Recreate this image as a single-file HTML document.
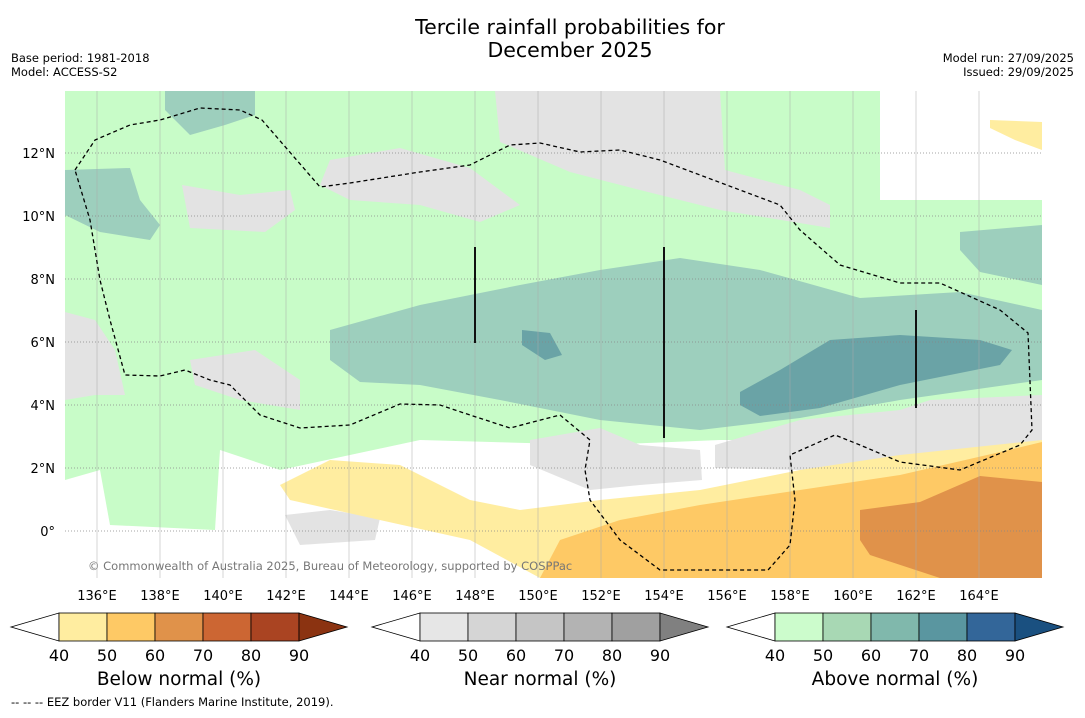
<!DOCTYPE html>
<html><head><meta charset="utf-8"><style>
body{margin:0;background:#fff;width:1085px;height:713px;overflow:hidden;font-family:"Liberation Sans",sans-serif}
svg text{font-family:"DejaVu Sans","Liberation Sans",sans-serif}
</style></head><body>
<svg id="s" width="1085" height="713">
<text x="570" y="34" font-size="20.5" text-anchor="middle">Tercile rainfall probabilities for</text>
<text x="570" y="57" font-size="20.5" text-anchor="middle">December 2025</text>
<text x="11" y="62" font-size="11.5">Base period: 1981-2018</text>
<text x="11" y="76" font-size="11.5">Model: ACCESS-S2</text>
<text x="1074" y="62" font-size="11.5" text-anchor="end">Model run: 27/09/2025</text>
<text x="1074" y="76" font-size="11.5" text-anchor="end">Issued: 29/09/2025</text>
<defs><clipPath id="mc"><rect x="65" y="91" width="977" height="487"/></clipPath></defs>
<g id="map" clip-path="url(#mc)"></g>
<g id="axes"></g>
<g id="bars"></g>
<text x="11" y="706" font-size="11.5">--  --  -- EEZ border V11 (Flanders Marine Institute, 2019).</text>
</svg>
<script>
const lonTicks=[136,138,140,142,144,146,148,150,152,154,156,158,160,162,164];
const latTicks=[0,2,4,6,8,10,12];
const levels=[40,50,60,70,80,90];
const belowColors=["#fff","#ffeda0","#fec965","#e0924a","#cc6633","#aa4422","#8b3311"];
const nearColors=["#fff","#e6e6e6","#d5d5d5","#c5c5c5","#b3b3b3","#a0a0a0","#808080"];
const aboveColors=["#fff","#ccfccc","#a8d8b4","#80b8ac","#5a96a0","#336699","#1a5080"];
const X=l=>97+(l-136)*31.5, Y=a=>531-a*31.5;
const NS="http://www.w3.org/2000/svg";
function mk(t,a,p){const e=document.createElementNS(NS,t);for(const k in a)e.setAttribute(k,a[k]);p.appendChild(e);return e;}
const map=document.getElementById('map');
const P=pts=>pts.map(p=>p.join(',')).join(' ');
const regions=[
["green-region","#c8fcc8",[[65,91],[880,91],[880,200],[1042,200],[1042,440],[720,440],[600,445],[420,440],[280,470],[220,450],[215,530],[110,525],[100,470],[65,480]]],
["gray-top-center","#e3e3e3",[[495,91],[720,91],[725,170],[800,190],[830,205],[830,228],[720,210],[640,190],[570,172],[500,142]]],
["gray-center","#e3e3e3",[[330,160],[400,148],[470,168],[520,205],[480,222],[420,205],[350,200],[320,185]]],
["gray-left-blob","#e3e3e3",[[182,185],[240,195],[290,190],[295,210],[265,232],[190,228]]],
["gray-left","#e3e3e3",[[65,312],[95,320],[115,350],[125,395],[95,395],[65,400]]],
["gray-mid-left","#e3e3e3",[[190,360],[255,350],[300,380],[300,410],[240,400],[195,385]]],
["teal-left","#9dcfbd",[[65,170],[130,168],[140,200],[160,225],[150,240],[100,232],[65,215]]],
["teal-top","#9dcfbd",[[165,91],[255,91],[255,115],[225,125],[190,135],[165,110]]],
["teal-main","#9dcfbd",[[330,330],[420,305],[520,285],[600,270],[680,258],[760,270],[860,298],[960,292],[1042,310],[1042,380],[900,400],[800,418],[700,430],[600,420],[500,400],[420,385],[360,382],[330,360]]],
["teal-right","#9dcfbd",[[960,232],[1042,225],[1042,285],[980,272],[960,250]]],
["dark-teal","#6aa3a6",[[740,392],[780,370],[830,340],[900,335],[980,340],[1012,350],[1000,365],[900,385],[820,408],[760,416],[740,405]]],
["dark-teal-small","#6aa3a6",[[522,330],[550,333],[562,355],[545,360],[522,345]]],
["gray-bottom-center","#e3e3e3",[[530,440],[600,428],[640,445],[700,450],[702,480],[640,485],[590,490],[530,465]]],
["gray-bottom-right","#e3e3e3",[[715,445],[800,420],[900,410],[930,400],[1042,395],[1042,440],[900,460],[800,470],[715,468]]],
["gray-bottom-left","#e3e3e3",[[285,515],[330,510],[380,518],[375,540],[300,545]]],
["yellow-region","#ffeda0",[[280,485],[330,460],[400,465],[470,500],[520,510],[600,500],[700,490],[800,470],[900,455],[1042,440],[1042,578],[540,578],[470,540],[380,520],[290,500]]],
["orange-region","#fec965",[[540,578],[560,540],[620,520],[700,505],[800,490],[900,475],[1000,452],[1042,442],[1042,578]]],
["dark-orange-region","#e0924a",[[860,510],[920,502],[980,476],[1042,482],[1042,578],[940,578],[870,555],[860,540]]],
["yellow-top-right","#ffeda0",[[990,120],[1042,122],[1042,150],[1015,140],[990,128]]]
];
regions.forEach(r=>{const e=mk('polygon',{points:P(r[2]),fill:r[1]},map);
});
const ax=document.getElementById('axes');
lonTicks.forEach(l=>{const e=mk('line',{x1:X(l),x2:X(l),y1:91,y2:578,stroke:'#aaa','stroke-width':0.5},map);

const t=mk('text',{x:X(l),y:600,'font-size':13,'text-anchor':'middle'},ax);t.textContent=l+'°E';
});
latTicks.forEach(a=>{const e=mk('line',{x1:65,x2:1042,y1:Y(a),y2:Y(a),stroke:'#888','stroke-width':0.8,'stroke-dasharray':'1,2'},map);

const t=mk('text',{x:55,y:Y(a)+5,'font-size':13,'text-anchor':'end'},ax);t.textContent=a==0?'0°':a+'°N';
});
const eez=[[75,170],[95,140],[130,125],[160,120],[200,108],[240,110],[262,120],[320,187],[350,183],[420,172],[470,165],[510,145],[540,143],[580,152],[620,150],[660,160],[740,190],[780,205],[800,230],[840,265],[900,283],[940,283],[1000,310],[1028,333],[1032,430],[1020,445],[960,470],[900,462],[860,445],[835,435],[790,455],[795,500],[790,545],[768,570],[660,570],[620,540],[590,500],[585,470],[590,440],[560,415],[510,428],[470,415],[440,405],[400,404],[350,425],[300,428],[260,415],[230,385],[210,380],[185,370],[160,376],[125,375],[110,320],[100,280],[90,220],[75,170]];
const d=mk('polyline',{points:P(eez),fill:'none',stroke:'#000','stroke-width':1.3,'stroke-dasharray':'4,3'},map);

[[475,247,343],[664,247,438],[916,310,408]].forEach(v=>{const e=mk('line',{x1:v[0],x2:v[0],y1:v[1],y2:v[2],stroke:'#111','stroke-width':2},map);
});
const ct=mk('text',{x:88,y:570,'font-size':11.5,fill:'#777'},map);ct.textContent='© Commonwealth of Australia 2025, Bureau of Meteorology, supported by COSPPac';

const bars=document.getElementById('bars');
[[59,belowColors,'Below normal (%)','below-colorbar'],[420,nearColors,'Near normal (%)','near-colorbar'],[775,aboveColors,'Above normal (%)','above-colorbar']].forEach(b=>{
const x0=b[0],w=48,g=mk('g',{},bars);
mk('polygon',{points:`${x0},613 ${x0},641 ${x0-48},627`,fill:b[1][0],stroke:'#000','stroke-width':0.8},g);
for(let i=0;i<5;i++)mk('rect',{x:x0+i*w,y:613,width:w,height:28,fill:b[1][i+1],stroke:'#000','stroke-width':0.8},g);
mk('polygon',{points:`${x0+240},613 ${x0+240},641 ${x0+288},627`,fill:b[1][6],stroke:'#000','stroke-width':0.8},g);
levels.forEach((v,i)=>{const t=mk('text',{x:x0+i*w,y:661,'font-size':16,'text-anchor':'middle'},g);t.textContent=v;});
const t=mk('text',{x:x0+120,y:685,'font-size':18.5,'text-anchor':'middle'},g);t.textContent=b[2];});
</script></body></html>
